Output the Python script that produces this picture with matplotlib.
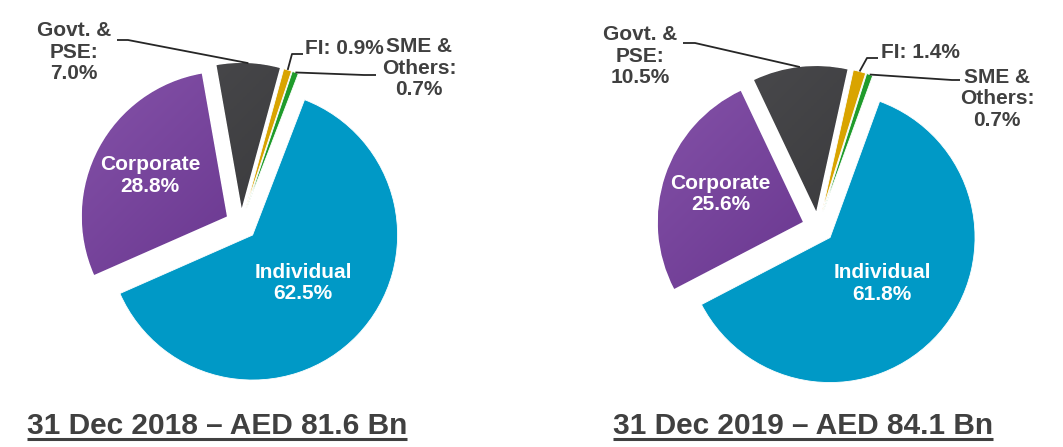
import numpy as np
import matplotlib.pyplot as plt
from matplotlib.colors import LinearSegmentedColormap

segments = ["Individual", "Corporate", "Govt. & PSE", "FI", "SME & Others"]
share_2018 = [62.5, 28.8, 7.0, 0.9, 0.7]
share_2019 = [61.8, 25.6, 10.5, 1.4, 0.7]
titles = ["31 Dec 2018 – AED 81.6 Bn", "31 Dec 2019 – AED 84.1 Bn"]

colors = ["#0099c6", "#6a3996", "#3a3a3d", "#d9a400", "#1f9b2b"]
# light -> dark shading for the two wedges with a visible gradient
shades = {1: ("#8452a8", "#5a2781"), 2: ("#4c4c4f", "#2f2f31")}
text_grey = "#404040"

W, H = 1063, 447


def Y(y):
    # image row -> data y
    return H - y


fig = plt.figure(figsize=(W / 100, H / 100), dpi=100)
ax = fig.add_axes([0, 0, 1, 1])
plt.rcParams["font.family"] = ["Liberation Sans", "DejaVu Sans"]

gx, gy = np.meshgrid(np.linspace(0, 1, 200), np.linspace(0, 1, 200))
grad = (gx + gy) / 2


def draw_pie(vals, cx, cy, start, r=145, gap=16):
    wedges, _ = ax.pie(vals, colors=colors, startangle=start, counterclock=False,
                       radius=r, center=(cx, Y(cy)),
                       wedgeprops=dict(linewidth=0.6, edgecolor="white"))
    info = []
    for i, w in enumerate(wedges):
        mid = np.deg2rad((w.theta1 + w.theta2) / 2)
        c = (cx + gap * np.cos(mid), Y(cy) + gap * np.sin(mid))
        w.set_center(c)
        info.append((c, mid))
        if i in shades:
            cmap = LinearSegmentedColormap.from_list("s%d" % i, shades[i])
            im = ax.imshow(grad, cmap=cmap, origin="upper",
                           extent=(c[0] - r, c[0] + r, c[1] - r, c[1] + r),
                           zorder=w.get_zorder() + 0.1, interpolation="bilinear")
            im.set_clip_path(w)
    return info


def outer(info, i, r=145):
    (x, y), m = info[i]
    return x + r * np.cos(m), y + r * np.sin(m)


def inner_label(info, i, txt, d, r=145):
    (x, y), m = info[i]
    ax.text(x + d * r * np.cos(m), y + d * r * np.sin(m), txt, color="white",
            fontsize=15, fontweight="bold", ha="center", va="center",
            linespacing=1.15, zorder=5)


def side_label(x, y, txt, ha="center"):
    ax.text(x, Y(y), txt, color=text_grey, fontsize=15, fontweight="bold",
            ha=ha, va="center", linespacing=1.15, zorder=5)


def leader(pts, end):
    xs = [p[0] for p in pts] + [end[0]]
    ys = [Y(p[1]) for p in pts] + [end[1]]
    ax.plot(xs, ys, color="#262626", lw=1.3, solid_capstyle="butt", zorder=4)


# 2018
p1 = draw_pie(share_2018, 241, 224, 69)
inner_label(p1, 0, "Individual\n%.1f%%" % share_2018[0], 0.48)
inner_label(p1, 1, "Corporate\n%.1f%%" % share_2018[1], 0.6)
side_label(74, 52, "Govt. &\nPSE:\n%.1f%%" % share_2018[2])
side_label(305, 48, "FI: %.1f%%" % share_2018[3], ha="left")
side_label(419, 68, "SME &\nOthers:\n%.1f%%" % share_2018[4])
leader([(117, 40), (128, 40)], outer(p1, 2))
leader([(303, 54), (292, 54)], outer(p1, 3))
leader([(376, 75), (364, 75)], outer(p1, 4))

# 2019
p2 = draw_pie(share_2019, 818, 227, 70)
inner_label(p2, 0, "Individual\n%.1f%%" % share_2019[0], 0.48)
inner_label(p2, 1, "Corporate\n%.1f%%" % share_2019[1], 0.6)
side_label(640, 56, "Govt. &\nPSE:\n%.1f%%" % share_2019[2])
side_label(881, 53, "FI: %.1f%%" % share_2019[3], ha="left")
side_label(997, 99, "SME &\nOthers:\n%.1f%%" % share_2019[4])
leader([(683, 43), (695, 43)], outer(p2, 2))
leader([(878, 58), (867, 58)], outer(p2, 3))
leader([(960, 80), (952, 80)], outer(p2, 4))

# underlined captions
caps = []
for x0, t in zip([27, 613], titles):
    caps.append(ax.text(x0, Y(434), t, color=text_grey, fontsize=21.5,
                        fontweight="bold", ha="left", va="baseline"))

ax.set_xlim(0, W)
ax.set_ylim(0, H)
ax.set_aspect("equal")
ax.axis("off")

fig.canvas.draw()
inv = ax.transData.inverted()
for t in caps:
    bb = t.get_window_extent()
    (x0, _), (x1, _) = inv.transform([(bb.x0, bb.y0), (bb.x1, bb.y0)])
    ax.plot([x0, x1], [Y(438.5), Y(438.5)], color=text_grey, lw=2.2,
            solid_capstyle="butt")

fig.savefig("out.png", dpi=100)
